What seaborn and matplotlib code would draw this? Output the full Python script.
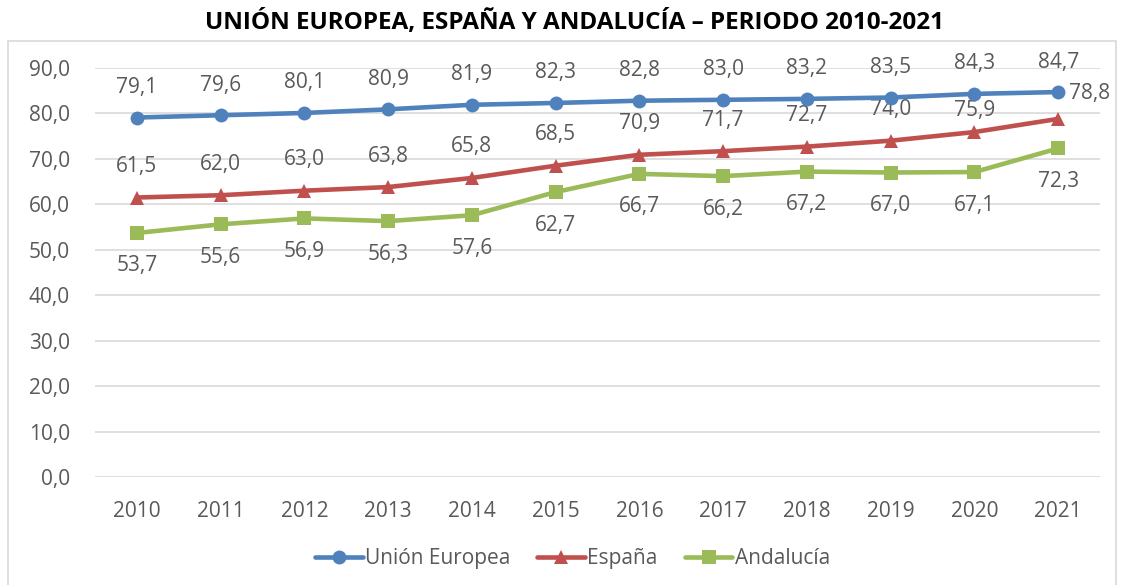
import pandas as pd
import matplotlib
matplotlib.use("Agg")
import matplotlib.pyplot as plt
import seaborn as sns
from matplotlib.patches import Rectangle

# Data
years = [2010, 2011, 2012, 2013, 2014, 2015, 2016, 2017, 2018, 2019, 2020, 2021]
union_europea = [79.1, 79.6, 80.1, 80.9, 81.9, 82.3, 82.8, 83.0, 83.2, 83.5, 84.3, 84.7]
espana = [61.5, 62.0, 63.0, 63.8, 65.8, 68.5, 70.9, 71.7, 72.7, 74.0, 75.9, 78.8]
andalucia = [53.7, 55.6, 56.9, 56.3, 57.6, 62.7, 66.7, 66.2, 67.2, 67.0, 67.1, 72.3]
series_names = ["Unión Europea", "España", "Andalucía"]
y_ticks = [0, 10, 20, 30, 40, 50, 60, 70, 80, 90]

colors = {"Unión Europea": "#4F81BD", "España": "#C0504D", "Andalucía": "#9BBB59"}
markers = {"Unión Europea": "o", "España": "^", "Andalucía": "s"}
text_gray = "#595959"
fs = 15

sns.set_style("white")
plt.rcParams["font.family"] = ["Open Sans", "DejaVu Sans"]

# Long-form table for seaborn
df = pd.DataFrame({
    "year": years * 3,
    "valor": union_europea + espana + andalucia,
    "serie": [series_names[0]] * 12 + [series_names[1]] * 12 + [series_names[2]] * 12,
})

fig = plt.figure(figsize=(11.22, 5.85), dpi=100)
ax = fig.add_axes([0.0847, 0.1846, 0.8957, 0.6992])

sns.lineplot(data=df, x="year", y="valor", hue="serie", style="serie",
             palette=colors, markers=markers, dashes=False, linewidth=3.3,
             markersize=10, markeredgewidth=0, ax=ax, zorder=4)

ax.set_xlim(years[0] - 0.5, years[-1] + 0.5)
ax.set_ylim(0, 90)
ax.set_xticks(years)
ax.set_xticklabels([str(y) for y in years])
ax.set_yticks(y_ticks)
ax.set_yticklabels([f"{v:.1f}".replace(".", ",") for v in y_ticks])
ax.tick_params(axis="both", length=0, colors=text_gray, labelsize=fs)
ax.tick_params(axis="x", pad=17)
ax.tick_params(axis="y", pad=18)
ax.set_xlabel("")
ax.set_ylabel("")
ax.grid(axis="y", color="#D9D9D9", linewidth=1.2)
ax.set_axisbelow(True)
for s in ax.spines.values():
    s.set_visible(False)


def fmt(v):
    return f"{v:.1f}".replace(".", ",")


# Data labels: EU and Spain above, Andalucia below, last Spain label to the right
for x, v in zip(years, union_europea):
    ax.annotate(fmt(v), (x, v), xytext=(0, 30), textcoords="offset pixels",
                ha="center", va="center", fontsize=fs, color=text_gray, zorder=3)
for i, (x, v) in enumerate(zip(years, espana)):
    if i == len(years) - 1:
        off = (31, 25)
    elif i == len(years) - 2:
        off = (0, 22)
    else:
        off = (0, 31)
    ax.annotate(fmt(v), (x, v), xytext=off, textcoords="offset pixels",
                ha="center", va="center", fontsize=fs, color=text_gray, zorder=3)
for x, v in zip(years, andalucia):
    ax.annotate(fmt(v), (x, v), xytext=(0, -33), textcoords="offset pixels",
                ha="center", va="center", fontsize=fs, color=text_gray, zorder=3)

ax.get_legend().remove()
handles, labels = ax.get_legend_handles_labels()
fig.legend(handles, labels, loc="center", bbox_to_anchor=(0.51, 0.045), ncol=3,
           frameon=False, fontsize=fs, labelcolor=text_gray, numpoints=1,
           handlelength=2.3, handletextpad=0.1, columnspacing=1.3)

fig.text(0.512, 0.962, "UNIÓN EUROPEA, ESPAÑA Y ANDALUCÍA – PERIODO 2010-2021",
         ha="center", va="center", fontsize=17.5, fontweight="bold", color="black")

# Chart area border
fig.patches.append(Rectangle((0.007, -0.01), 0.988, 0.94, transform=fig.transFigure,
                             fill=False, edgecolor="#D9D9D9", linewidth=1.2))

fig.savefig("out.png", dpi=100)
